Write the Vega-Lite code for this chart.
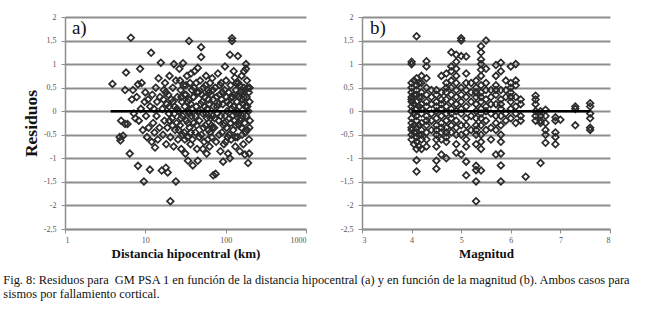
{
"$schema": "https://vega.github.io/schema/vega-lite/v6.json",
"background": "white",
"padding": {"left": 3, "top": 13, "right": 5, "bottom": 5},
"config": {
 "locale": {"number": {"decimal": ",", "thousands": ".", "grouping": [3], "currency": ["", " €"], "minus": "-"}},
 "font": "Liberation Serif",
 "view": {"stroke": null},
 "axis": {"labelFont": "Liberation Serif", "labelFontSize": 8, "labelColor": "#555555", "titleFont": "Liberation Serif", "titleFontSize": 13, "titleFontWeight": "bold", "titleColor": "#111111", "domainColor": "#8e8e8e", "domainWidth": 1.5, "tickColor": "#8e8e8e", "tickSize": 4, "labelPadding": 5, "gridColor": "#8e8e8e", "gridWidth": 2, "labelOverlap": false},
 "axisX": {"labelPadding": 3}
},
"datasets": {
 "a": [
  {"d":3.9,"r":0.58},{"d":4.8,"r":-0.55},{"d":4.9,"r":-0.62},{"d":5.0,"r":-0.2},{"d":5.3,"r":-0.52},{"d":5.6,"r":-0.27},{"d":5.75,"r":0.82},{"d":5.6,"r":0.45},{"d":6.0,"r":-0.27},{"d":6.4,"r":-0.9},{"d":6.6,"r":1.56},{"d":6.8,"r":0.25},{"d":7.0,"r":0.45},{"d":7.2,"r":-0.05},{"d":7.5,"r":-0.15},{"d":7.8,"r":0.3},{"d":8.1,"r":0.57},{"d":8.1,"r":-1.16},{"d":8.3,"r":-0.2},{"d":8.6,"r":0.9},{"d":8.8,"r":0.05},{"d":9.0,"r":0.6},{"d":9.3,"r":-0.4},{"d":9.6,"r":-1.49},{"d":9.8,"r":0.2},
  {"d":10,"r":0.4},{"d":10.2,"r":-0.1},{"d":10.5,"r":-0.55},{"d":10.8,"r":0.25},{"d":11,"r":-0.35},{"d":11.4,"r":-1.24},{"d":11.5,"r":0.1},{"d":11.8,"r":1.24},{"d":12,"r":-0.65},{"d":12.2,"r":0.35},{"d":12.5,"r":-0.25},{"d":12.8,"r":0.05},{"d":13,"r":-0.45},{"d":13.2,"r":-0.77},{"d":13.5,"r":0.5},{"d":13.8,"r":-0.1},{"d":14,"r":0.2},{"d":14.3,"r":-0.6},{"d":14.6,"r":0.7},{"d":15,"r":-0.35},{"d":15.2,"r":0.3},
  {"d":15.6,"r":1.03},{"d":16,"r":-1.26},{"d":16.3,"r":0.05},{"d":16.6,"r":-0.5},{"d":17,"r":0.45},{"d":17.3,"r":-0.2},{"d":17.6,"r":0.6},{"d":18,"r":-1.2},{"d":18.2,"r":-0.7},{"d":18.5,"r":0.15},{"d":18.8,"r":-0.35},{"d":19,"r":-1.3},{"d":19.3,"r":0.35},{"d":19.6,"r":-0.05},{"d":20,"r":0.75},{"d":20.5,"r":-1.91},{"d":20.5,"r":-0.55},{"d":21,"r":0.25},{"d":21.5,"r":-0.15},{"d":22,"r":0.5},{"d":22.7,"r":1.0},{"d":22.5,"r":-0.75},{"d":23,"r":0.1},{"d":23.5,"r":-0.4},{"d":24,"r":-1.49},{"d":24,"r":0.65},{"d":24.5,"r":-0.25},{"d":25,"r":0.3},
  {"d":25.5,"r":-0.6},{"d":26,"r":0.0},{"d":26.5,"r":0.9},{"d":27,"r":-0.3},{"d":27.5,"r":0.45},{"d":28,"r":-0.8},{"d":28.5,"r":0.2},{"d":29,"r":-0.1},{"d":29.5,"r":1.02},{"d":30,"r":0.55},{"d":30.5,"r":-0.45},{"d":31,"r":0.1},{"d":31.5,"r":-0.9},{"d":32,"r":0.35},{"d":32.5,"r":-0.2},{"d":33,"r":0.75},{"d":33.5,"r":-0.55},{"d":34,"r":-1.05},{"d":34.5,"r":0.0},{"d":35,"r":1.49},{"d":35,"r":0.25},{"d":35.5,"r":-0.35},{"d":36,"r":0.6},{"d":36.5,"r":-0.7},{"d":37,"r":0.15},{"d":37.5,"r":-0.1},{"d":38,"r":0.45},{"d":38.5,"r":-0.6},{"d":39,"r":-1.15},{"d":39.5,"r":0.3},{"d":40,"r":-0.25},
  {"d":41,"r":0.85},{"d":42,"r":-0.45},{"d":43,"r":0.1},{"d":44,"r":-0.8},{"d":45,"r":0.92},{"d":45,"r":-1.05},{"d":46,"r":0.4},{"d":47,"r":-0.2},{"d":48,"r":0.65},{"d":49.5,"r":1.36},{"d":49.5,"r":1.15},{"d":50,"r":-0.5},{"d":51,"r":0.2},{"d":52,"r":-0.05},{"d":53,"r":0.5},{"d":54,"r":-0.65},{"d":55,"r":0.3},{"d":56,"r":-0.3},{"d":57,"r":0.75},{"d":58,"r":-0.9},{"d":59,"r":0.05},{"d":60,"r":0.45},{"d":61,"r":-0.4},{"d":62,"r":0.15},{"d":63,"r":-0.75},{"d":64,"r":0.6},{"d":65,"r":-0.15},{"d":66,"r":0.35},{"d":67,"r":-0.55},{"d":68,"r":0.7},{"d":69,"r":-0.1},{"d":70,"r":-1.36},{"d":70,"r":0.25},
  {"d":72,"r":-0.35},{"d":74,"r":0.5},{"d":75,"r":-1.33},{"d":76,"r":-0.65},{"d":78,"r":0.1},{"d":80,"r":0.8},{"d":82,"r":-0.2},{"d":84,"r":0.35},{"d":86,"r":-0.85},{"d":88,"r":0.6},{"d":90,"r":-0.45},{"d":92,"r":0.15},{"d":93,"r":-1.07},{"d":95,"r":-0.7},{"d":97,"r":0.45},{"d":99,"r":-0.1},{"d":101,"r":0.65},{"d":103,"r":-0.35},{"d":105,"r":0.2},{"d":107,"r":-0.9},{"d":109,"r":0.4},{"d":111,"r":-0.15},{"d":113,"r":1.2},{"d":113,"r":-1.0},{"d":115,"r":0.55},{"d":117,"r":-0.6},{"d":119,"r":0.05},
  {"d":120,"r":1.55},{"d":120,"r":1.49},{"d":122,"r":0.3},{"d":124,"r":-0.4},{"d":126,"r":0.85},{"d":128,"r":-0.2},{"d":130,"r":0.71},{"d":132,"r":-0.75},{"d":134,"r":0.45},{"d":136,"r":-0.05},{"d":138,"r":0.2},{"d":140,"r":-0.55},{"d":142,"r":1.17},{"d":144,"r":0.6},{"d":146,"r":-0.3},{"d":148,"r":0.1},{"d":150,"r":-0.85},{"d":152,"r":0.4},{"d":155,"r":-0.15},{"d":158,"r":0.75},{"d":160,"r":-0.5},{"d":163,"r":0.25},{"d":166,"r":-0.7},{"d":169,"r":0.5},{"d":172,"r":-0.25},{"d":174,"r":-0.92},{"d":176,"r":0.1},{"d":179,"r":1.0},{"d":179,"r":0.9},{"d":182,"r":0.3},{"d":185,"r":-0.4},{"d":188,"r":0.5},{"d":190,"r":-1.1},{"d":192,"r":0.0},{"d":195,"r":-0.6},{"d":198,"r":0.2},{"d":200,"r":-0.2},
  {"d":16.8,"r":0.25},{"d":19.8,"r":0.1},{"d":21.8,"r":-0.3},{"d":24.8,"r":0.05},{"d":27.8,"r":-0.15},{"d":30.8,"r":0.35},{"d":33.8,"r":0.2},{"d":36.8,"r":-0.45},{"d":40.5,"r":0.5},{"d":43.5,"r":-0.3},{"d":46.5,"r":0.0},{"d":50.5,"r":0.35},{"d":54.5,"r":0.1},{"d":58.5,"r":-0.15},{"d":62.5,"r":0.4},{"d":66.5,"r":-0.3},{"d":71,"r":0.1},{"d":77,"r":0.3},{"d":83,"r":-0.5},{"d":89,"r":0.25},{"d":96,"r":-0.25},{"d":104,"r":0.0},{"d":110,"r":-0.5},{"d":118,"r":0.3},{"d":125,"r":0.1},{"d":133,"r":-0.3},{"d":141,"r":0.35},{"d":149,"r":0.55},{"d":157,"r":-0.35},{"d":165,"r":0.15},{"d":175,"r":-0.45},{"d":184,"r":0.65},{"d":194,"r":0.4},{"d":197,"r":-0.35},{"d":27,"r":0.65},{"d":31,"r":-0.6},{"d":37,"r":0.8},{"d":43,"r":0.6},{"d":52,"r":-0.8},{"d":60,"r":-0.6},{"d":68,"r":-0.35},{"d":85,"r":0.55},{"d":100,"r":-0.65},{"d":115,"r":-0.25},{"d":135,"r":0.6},{"d":160,"r":0.45},{"d":180,"r":-0.1},{"d":23,"r":-0.05},{"d":35,"r":-0.05},{"d":56,"r":0.55},{"d":79,"r":-0.05},{"d":98,"r":0.95},{"d":145,"r":-0.05},
  {"d":18,"r":0.4},{"d":20,"r":-0.2},{"d":22,"r":0.2},{"d":26,"r":-0.4},{"d":28,"r":0.3},{"d":29,"r":-0.5},{"d":32,"r":0.55},{"d":34,"r":-0.25},{"d":38,"r":0.05},{"d":40,"r":0.3},{"d":42,"r":-0.1},{"d":44,"r":0.4},{"d":47,"r":-0.55},{"d":49,"r":0.15},{"d":53,"r":-0.35},{"d":57,"r":-0.05},{"d":61,"r":0.25},{"d":64,"r":-0.45},{"d":69,"r":0.45},{"d":73,"r":-0.15},{"d":81,"r":0.15},{"d":87,"r":-0.1},{"d":91,"r":0.4},{"d":94,"r":-0.3},{"d":102,"r":0.3},{"d":106,"r":-0.55},{"d":112,"r":0.15},{"d":121,"r":-0.1},{"d":127,"r":0.35},{"d":131,"r":-0.55},{"d":139,"r":0.0},{"d":147,"r":0.3},{"d":153,"r":-0.2},{"d":162,"r":-0.1},{"d":168,"r":0.3},{"d":177,"r":0.45},{"d":186,"r":0.1},{"d":199,"r":0.5},{"d":196,"r":-0.9},{"d":170,"r":0.85}
 ],
 "b": [
  {"m":4.0,"r":1.05},{"m":4.0,"r":1.0},{"m":4.0,"r":0.6},{"m":4.0,"r":0.5},{"m":4.0,"r":0.4},{"m":4.0,"r":0.3},{"m":4.0,"r":0.25},{"m":4.0,"r":0.1},{"m":4.0,"r":0.0},{"m":4.0,"r":-0.15},{"m":4.0,"r":-0.25},{"m":4.0,"r":-0.4},{"m":4.0,"r":-0.5},{"m":4.0,"r":-0.6},
  {"m":4.05,"r":0.65},{"m":4.05,"r":0.35},{"m":4.05,"r":0.15},{"m":4.05,"r":-0.05},{"m":4.05,"r":-0.3},{"m":4.05,"r":-0.45},{"m":4.05,"r":-0.7},
  {"m":4.1,"r":1.59},{"m":4.1,"r":0.7},{"m":4.1,"r":0.55},{"m":4.1,"r":0.45},{"m":4.1,"r":0.2},{"m":4.1,"r":0.05},{"m":4.1,"r":-0.1},{"m":4.1,"r":-0.2},{"m":4.1,"r":-0.35},{"m":4.1,"r":-0.55},{"m":4.1,"r":-0.65},{"m":4.1,"r":-0.8},{"m":4.1,"r":-1.04},{"m":4.1,"r":-1.28},
  {"m":4.15,"r":0.6},{"m":4.15,"r":0.3},{"m":4.15,"r":0.1},{"m":4.15,"r":-0.3},{"m":4.15,"r":-0.5},{"m":4.15,"r":-0.75},
  {"m":4.2,"r":0.75},{"m":4.2,"r":0.6},{"m":4.2,"r":0.4},{"m":4.2,"r":0.3},{"m":4.2,"r":0.15},{"m":4.2,"r":-0.05},{"m":4.2,"r":-0.25},{"m":4.2,"r":-0.4},{"m":4.2,"r":-0.6},{"m":4.2,"r":-0.8},
  {"m":4.3,"r":1.06},{"m":4.3,"r":0.95},{"m":4.3,"r":0.7},{"m":4.3,"r":0.5},{"m":4.3,"r":0.35},{"m":4.3,"r":0.1},{"m":4.3,"r":-0.1},{"m":4.3,"r":-0.3},{"m":4.3,"r":-0.45},{"m":4.3,"r":-0.6},{"m":4.3,"r":-0.75},
  {"m":4.4,"r":0.45},{"m":4.4,"r":0.3},{"m":4.4,"r":0.15},{"m":4.4,"r":-0.05},{"m":4.4,"r":-0.2},{"m":4.4,"r":-0.4},
  {"m":4.5,"r":0.45},{"m":4.5,"r":0.35},{"m":4.5,"r":0.2},{"m":4.5,"r":0.0},{"m":4.5,"r":-0.15},{"m":4.5,"r":-0.3},{"m":4.5,"r":-0.5},{"m":4.5,"r":-0.6},{"m":4.5,"r":-0.75},{"m":4.5,"r":-1.05},{"m":4.5,"r":-1.22},
  {"m":4.6,"r":0.75},{"m":4.6,"r":0.4},{"m":4.6,"r":0.25},{"m":4.6,"r":0.05},{"m":4.6,"r":-0.1},{"m":4.6,"r":-0.25},{"m":4.6,"r":-0.45},{"m":4.6,"r":-0.6},{"m":4.6,"r":-0.92},
  {"m":4.7,"r":0.8},{"m":4.7,"r":0.6},{"m":4.7,"r":0.4},{"m":4.7,"r":0.25},{"m":4.7,"r":0.1},{"m":4.7,"r":-0.05},{"m":4.7,"r":-0.2},{"m":4.7,"r":-0.35},{"m":4.7,"r":-0.55},{"m":4.7,"r":-0.65},{"m":4.7,"r":-1.0},
  {"m":4.8,"r":1.25},{"m":4.8,"r":0.95},{"m":4.8,"r":0.85},{"m":4.8,"r":0.5},{"m":4.8,"r":0.35},{"m":4.8,"r":0.2},{"m":4.8,"r":0.05},{"m":4.8,"r":-0.15},{"m":4.8,"r":-0.3},{"m":4.8,"r":-0.45},
  {"m":4.9,"r":1.2},{"m":4.9,"r":1.05},{"m":4.9,"r":0.9},{"m":4.9,"r":0.75},{"m":4.9,"r":0.45},{"m":4.9,"r":0.3},{"m":4.9,"r":0.15},{"m":4.9,"r":0.0},{"m":4.9,"r":-0.2},{"m":4.9,"r":-0.35},{"m":4.9,"r":-0.5},{"m":4.9,"r":-0.7},{"m":4.9,"r":-0.88},
  {"m":5.0,"r":1.55},{"m":5.0,"r":1.5},{"m":5.0,"r":1.17},{"m":5.0,"r":0.5},{"m":5.0,"r":0.35},{"m":5.0,"r":0.2},{"m":5.0,"r":-0.05},{"m":5.0,"r":-0.3},{"m":5.0,"r":-0.92},
  {"m":5.1,"r":1.16},{"m":5.1,"r":0.8},{"m":5.1,"r":0.45},{"m":5.1,"r":0.3},{"m":5.1,"r":0.1},{"m":5.1,"r":-0.15},{"m":5.1,"r":-0.3},{"m":5.1,"r":-0.45},{"m":5.1,"r":-0.6},{"m":5.1,"r":-0.75},{"m":5.1,"r":-1.07},{"m":5.1,"r":-1.36},
  {"m":5.2,"r":0.6},{"m":5.2,"r":0.4},{"m":5.2,"r":0.2},{"m":5.2,"r":-0.1},{"m":5.2,"r":-0.4},
  {"m":5.3,"r":0.65},{"m":5.3,"r":0.5},{"m":5.3,"r":0.3},{"m":5.3,"r":0.15},{"m":5.3,"r":0.0},{"m":5.3,"r":-0.15},{"m":5.3,"r":-0.3},{"m":5.3,"r":-0.5},{"m":5.3,"r":-0.7},{"m":5.3,"r":-1.16},{"m":5.3,"r":-1.25},{"m":5.3,"r":-1.49},{"m":5.3,"r":-1.91},
  {"m":5.4,"r":1.38},{"m":5.4,"r":1.25},{"m":5.4,"r":1.1},{"m":5.4,"r":1.0},{"m":5.4,"r":0.88},{"m":5.4,"r":0.75},{"m":5.4,"r":0.55},{"m":5.4,"r":0.4},{"m":5.4,"r":0.2},{"m":5.4,"r":0.05},{"m":5.4,"r":-0.15},{"m":5.4,"r":-0.3},{"m":5.4,"r":-0.5},{"m":5.4,"r":-0.65},{"m":5.4,"r":-0.8},{"m":5.4,"r":-1.26},
  {"m":5.5,"r":1.5},{"m":5.5,"r":0.9},{"m":5.5,"r":0.6},{"m":5.5,"r":0.45},{"m":5.5,"r":0.25},{"m":5.5,"r":0.0},{"m":5.5,"r":-0.2},{"m":5.5,"r":-0.4},
  {"m":5.6,"r":0.45},{"m":5.6,"r":0.3},{"m":5.6,"r":0.15},{"m":5.6,"r":-0.05},{"m":5.6,"r":-0.35},{"m":5.6,"r":-0.6},
  {"m":5.7,"r":0.98},{"m":5.7,"r":0.75},{"m":5.7,"r":0.55},{"m":5.7,"r":0.35},{"m":5.7,"r":0.15},{"m":5.7,"r":-0.1},{"m":5.7,"r":-0.25},{"m":5.7,"r":-0.4},{"m":5.7,"r":-0.92},
  {"m":5.8,"r":1.03},{"m":5.8,"r":0.85},{"m":5.8,"r":0.45},{"m":5.8,"r":0.25},{"m":5.8,"r":0.05},{"m":5.8,"r":-0.1},{"m":5.8,"r":-0.3},{"m":5.8,"r":-0.5},{"m":5.8,"r":-0.65},{"m":5.8,"r":-0.9},{"m":5.8,"r":-1.15},{"m":5.8,"r":-1.49},
  {"m":5.9,"r":0.65},{"m":5.9,"r":0.45},{"m":5.9,"r":0.3},{"m":5.9,"r":-0.05},{"m":5.9,"r":-0.2},
  {"m":6.0,"r":0.95},{"m":6.0,"r":0.6},{"m":6.0,"r":0.5},{"m":6.0,"r":0.4},{"m":6.0,"r":0.2},{"m":6.0,"r":0.05},{"m":6.0,"r":-0.15},
  {"m":6.1,"r":1.0},{"m":6.1,"r":0.65},{"m":6.1,"r":0.55},{"m":6.1,"r":0.3},{"m":6.1,"r":0.1},{"m":6.1,"r":-0.05},{"m":6.1,"r":-0.25},
  {"m":6.2,"r":0.25},{"m":6.2,"r":0.15},{"m":6.2,"r":-0.1},{"m":6.2,"r":-0.2},
  {"m":6.3,"r":-1.39},
  {"m":6.5,"r":0.33},{"m":6.5,"r":0.25},{"m":6.5,"r":0.15},{"m":6.5,"r":0.0},{"m":6.5,"r":-0.1},{"m":6.5,"r":-0.2},
  {"m":6.6,"r":0.0},{"m":6.6,"r":-0.1},{"m":6.6,"r":-0.2},{"m":6.6,"r":-0.25},{"m":6.6,"r":-1.1},
  {"m":6.7,"r":0.03},{"m":6.7,"r":-0.1},{"m":6.7,"r":-0.25},{"m":6.7,"r":-0.4},{"m":6.7,"r":-0.5},{"m":6.7,"r":-0.67},
  {"m":6.9,"r":-0.13},{"m":6.9,"r":-0.2},{"m":6.9,"r":-0.45},{"m":6.9,"r":-0.55},{"m":6.9,"r":-0.7},
  {"m":7.0,"r":-0.18},
  {"m":7.3,"r":0.1},{"m":7.3,"r":0.05},{"m":7.3,"r":-0.3},
  {"m":7.6,"r":0.17},{"m":7.6,"r":0.1},{"m":7.6,"r":-0.05},{"m":7.6,"r":-0.15},{"m":7.6,"r":-0.35},{"m":7.6,"r":-0.4},
  {"m":4.0,"r":0.2},{"m":4.0,"r":-0.35},{"m":4.1,"r":0.35},{"m":4.1,"r":-0.45},{"m":4.2,"r":0.05},{"m":4.2,"r":-0.5},{"m":4.3,"r":0.2},{"m":4.3,"r":-0.2},{"m":4.5,"r":0.1},{"m":4.5,"r":-0.4},{"m":4.6,"r":0.15},{"m":4.6,"r":-0.35},{"m":4.7,"r":0.5},{"m":4.7,"r":-0.45},{"m":4.8,"r":-0.05},{"m":4.8,"r":0.65},{"m":4.9,"r":0.6},{"m":5.0,"r":0.05},{"m":5.0,"r":-0.5},{"m":5.1,"r":0.6},{"m":5.3,"r":0.4},{"m":5.3,"r":-0.4},{"m":5.4,"r":0.3},{"m":5.4,"r":-0.05},{"m":5.5,"r":0.1},{"m":5.7,"r":0.45},{"m":5.8,"r":0.15},{"m":6.0,"r":0.3}
 ],
 "za": [{"d": 3.7, "d2": 200, "r": 0}],
 "zb": [{"m": 4.0, "m2": 7.6, "r": 0}],
 "la": [{"d": 1.22, "r": 1.77, "t": "a)"}],
 "lb": [{"m": 3.16, "r": 1.77, "t": "b)"}]
},
"spacing": 33,
"hconcat": [
 {
  "width": 241, "height": 212,
  "encoding": {
   "x": {"field": "d", "type": "quantitative", "scale": {"type": "log", "domain": [1, 1000]}, "axis": {"values": [1, 10, 100, 1000], "format": "d", "labelOverlap": false, "title": "Distancia hipocentral (km)", "grid": false, "titlePadding": 3}},
   "y": {"field": "r", "type": "quantitative", "scale": {"domain": [-2.5, 2], "nice": false, "zero": false}, "axis": {"values": [-2.5, -2, -1.5, -1, -0.5, 0, 0.5, 1, 1.5, 2], "format": ".1~f", "labelOverlap": false, "labelFlush": false, "title": "Residuos", "titleFontSize": 17.5, "grid": true, "titlePadding": 3}}
  },
  "layer": [
   {"data": {"name": "a"},
    "mark": {"type": "point", "shape": "diamond", "filled": false, "stroke": "#2b2b2b", "strokeWidth": 1.7, "size": 44, "opacity": 1}},
   {"data": {"name": "za"},
    "mark": {"type": "rule", "color": "black", "strokeWidth": 2.5},
    "encoding": {"x2": {"field": "d2"}}},
   {"data": {"name": "la"},
    "mark": {"type": "text", "align": "left", "baseline": "middle", "fontSize": 19, "font": "Liberation Serif", "color": "#111111"},
    "encoding": {"text": {"field": "t"}}}
  ]
 },
 {
  "width": 248, "height": 212,
  "encoding": {
   "x": {"field": "m", "type": "quantitative", "scale": {"domain": [3, 8], "nice": false, "zero": false}, "axis": {"values": [3, 4, 5, 6, 7, 8], "format": "d", "labelOverlap": false, "title": "Magnitud", "grid": false, "titlePadding": 3}},
   "y": {"field": "r", "type": "quantitative", "scale": {"domain": [-2.5, 2], "nice": false, "zero": false}, "axis": {"values": [-2.5, -2, -1.5, -1, -0.5, 0, 0.5, 1, 1.5, 2], "format": ".1~f", "labelOverlap": false, "labelFlush": false, "title": null, "grid": true}}
  },
  "layer": [
   {"data": {"name": "b"},
    "mark": {"type": "point", "shape": "diamond", "filled": false, "stroke": "#2b2b2b", "strokeWidth": 1.7, "size": 44, "opacity": 1}},
   {"data": {"name": "zb"},
    "mark": {"type": "rule", "color": "black", "strokeWidth": 2.5},
    "encoding": {"x2": {"field": "m2"}}},
   {"data": {"name": "lb"},
    "mark": {"type": "text", "align": "left", "baseline": "middle", "fontSize": 19, "font": "Liberation Serif", "color": "#111111"},
    "encoding": {"text": {"field": "t"}}}
  ]
 }
],
"title": {"text": ["Fig. 8: Residuos para \u00a0GM PSA 1 en función de la distancia hipocentral (a) y en función de la magnitud (b). Ambos casos para", "sismos por fallamiento cortical."], "orient": "bottom", "anchor": "start", "frame": "bounds", "font": "Liberation Serif", "fontSize": 12.4, "fontWeight": "normal", "color": "#111111", "offset": 14, "dx": -19, "lineHeight": 14}
}
